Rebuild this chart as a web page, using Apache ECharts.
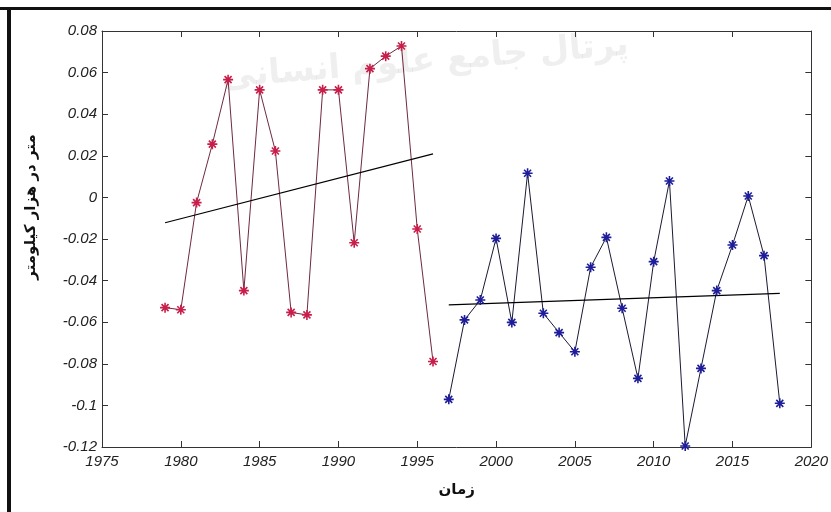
<!DOCTYPE html>
<html>
<head>
<meta charset="utf-8">
<script src="https://cdn.jsdelivr.net/npm/echarts@6/dist/echarts.min.js"></script>
<style>
html,body{margin:0;padding:0;background:#fff;}
#chart{width:831px;height:512px;}
</style>
</head>
<body>
<div id="chart"></div>
<script>
// Data
const redYears = [1979,1980,1981,1982,1983,1984,1985,1986,1987,1988,1989,1990,1991,1992,1993,1994,1995,1996];
const redValues = [-0.053,-0.054,-0.0025,0.0256,0.0566,-0.0448,0.0517,0.0223,-0.0553,-0.0565,0.0517,0.0517,-0.0218,0.0619,0.0679,0.0728,-0.0152,-0.0789];
const blueYears = [1997,1998,1999,2000,2001,2002,2003,2004,2005,2006,2007,2008,2009,2010,2011,2012,2013,2014,2015,2016,2017,2018];
const blueValues = [-0.0971,-0.0589,-0.0493,-0.0197,-0.0601,0.0116,-0.0557,-0.065,-0.0742,-0.0336,-0.0192,-0.0533,-0.087,-0.0309,0.0079,-0.1195,-0.0822,-0.0448,-0.0229,0.0007,-0.028,-0.099];
const redTrendYears = [1979,1996];
const redTrendValues = [-0.0122,0.0209];
const blueTrendYears = [1997,2018];
const blueTrendValues = [-0.0517,-0.0461];
const xTicks = {min:1975,max:2020,interval:5};
const yTicks = {min:-0.12,max:0.08,interval:0.02};
const xName = 'زمان';
const yName = 'متر در هزار کیلومتر';

const pairs = (xs, ys) => xs.map((x,i)=>[x, ys[i]]);
const star = 'path://M0,5L10,5M5,0L5,10M1.5,1.5L8.5,8.5M8.5,1.5L1.5,8.5';

const chart = echarts.init(document.getElementById('chart'), null, {renderer:'canvas'});
const labelFont = {fontFamily:'Liberation Sans, Arial, sans-serif', fontStyle:'italic', fontSize:15, color:'#222'};
const axisLine = {show:true, onZero:false, lineStyle:{color:'#333', width:1}};
const tick = {show:true, inside:true, length:6, lineStyle:{color:'#333'}};

chart.setOption({
  animation:false,
  backgroundColor:'#fff',
  grid:{left:102, right:19, top:31, bottom:65, containLabel:false},
  xAxis:[
    {type:'value', min:xTicks.min, max:xTicks.max, interval:xTicks.interval, position:'bottom',
     axisLine:axisLine, axisTick:tick, splitLine:{show:false},
     axisLabel:Object.assign({margin:7, formatter:v=>String(v)}, labelFont),
     name:xName, nameLocation:'middle', nameGap:36,
     nameTextStyle:{fontFamily:'DejaVu Sans, sans-serif', fontWeight:'bold', fontSize:15, color:'#111'}},
    {type:'value', min:xTicks.min, max:xTicks.max, interval:xTicks.interval, position:'top',
     axisLine:axisLine, axisTick:tick, splitLine:{show:false}, axisLabel:{show:false}}
  ],
  yAxis:[
    {type:'value', min:yTicks.min, max:yTicks.max, interval:yTicks.interval, position:'left',
     axisLine:axisLine, axisTick:tick, splitLine:{show:false},
     axisLabel:Object.assign({margin:5}, labelFont)},
    {type:'value', min:yTicks.min, max:yTicks.max, interval:yTicks.interval, position:'right',
     axisLine:axisLine, axisTick:tick, splitLine:{show:false}, axisLabel:{show:false}}
  ],
  graphic:[
    {type:'rect', shape:{x:0,y:7,width:831,height:3}, style:{fill:'#111'}, silent:true, z:-1},
    {type:'rect', shape:{x:7,y:7,width:4,height:505}, style:{fill:'#111'}, silent:true, z:-1},
    {type:'text', x:425, y:62, rotation:0.08, style:{text:'پرتال جامع علوم انسانی', fill:'rgba(150,150,150,0.15)', font:'bold 34px DejaVu Sans, sans-serif', align:'center', verticalAlign:'middle'}, silent:true, z:-1},
    {type:'text', x:31, y:207, rotation:Math.PI/2, style:{text:yName, fill:'#111', font:'bold 15px DejaVu Sans, sans-serif', align:'center', verticalAlign:'middle'}, silent:true}
  ],
  series:[
    {type:'line', name:'red', data:pairs(redYears, redValues),
     symbol:star, symbolSize:10, showSymbol:true,
     lineStyle:{color:'#6e2a40', width:1},
     itemStyle:{color:'rgba(0,0,0,0)', borderColor:'#c81e4a', borderWidth:1.6}},
    {type:'line', name:'blue', data:pairs(blueYears, blueValues),
     symbol:star, symbolSize:10, showSymbol:true,
     lineStyle:{color:'#1a1a33', width:1},
     itemStyle:{color:'rgba(0,0,0,0)', borderColor:'#1e1e9a', borderWidth:1.6}},
    {type:'line', name:'redTrend', data:pairs(redTrendYears, redTrendValues),
     symbol:'none', lineStyle:{color:'#000', width:1.2}},
    {type:'line', name:'blueTrend', data:pairs(blueTrendYears, blueTrendValues),
     symbol:'none', lineStyle:{color:'#000', width:1.2}}
  ]
});
</script>
</body>
</html>
